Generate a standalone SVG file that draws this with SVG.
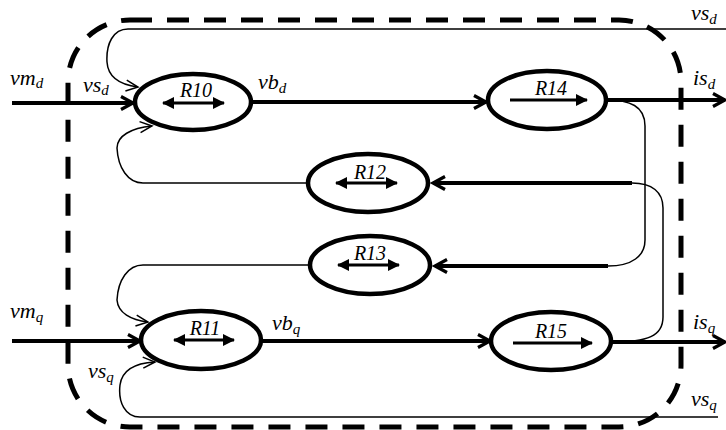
<svg xmlns="http://www.w3.org/2000/svg" width="726" height="430" viewBox="0 0 726 430">
<style>
.node{fill:#fff;stroke:#000;stroke-width:4.5}
.thick{fill:none;stroke:#000;stroke-width:3.8}
.thin{fill:none;stroke:#000;stroke-width:1.5}
.inner{fill:none;stroke:#000;stroke-width:3}
.border{fill:none;stroke:#000;stroke-width:5;stroke-dasharray:22 15}
text{font-family:'Liberation Serif','Times New Roman',Times,serif;font-style:italic;fill:#000}
.lbl{font-size:22px}
.rl{font-size:20px;text-anchor:middle}
.sub{font-size:15px}
</style>
<defs>
<marker id="chev" markerUnits="userSpaceOnUse" markerWidth="18" markerHeight="18" refX="14" refY="8" orient="auto" viewBox="0 0 18 16">
<path d="M2,1.5 L14,8 L2,14.5" fill="none" stroke="#000" stroke-width="3.2"/>
</marker>
<marker id="chevThin" markerUnits="userSpaceOnUse" markerWidth="16" markerHeight="16" refX="13" refY="8" orient="auto" viewBox="0 0 16 16">
<path d="M1,2.5 L13,8 L1,13.5" fill="none" stroke="#000" stroke-width="1.5"/>
</marker>
<marker id="tri" markerUnits="userSpaceOnUse" markerWidth="14" markerHeight="14" refX="11" refY="6" orient="auto-start-reverse" viewBox="0 0 14 12">
<path d="M0,0 L12,6 L0,12 Z" fill="#000"/>
</marker>
</defs>

<g id="connectors">
<path class="thick" d="M12,103 H133" marker-end="url(#chev)"/>
<path class="thick" d="M253,102 H486" marker-end="url(#chev)"/>
<path class="thick" d="M606,100 H725" marker-end="url(#chev)"/>
<path class="thick" d="M12,341 H140" marker-end="url(#chev)"/>
<path class="thick" d="M262,341 H490" marker-end="url(#chev)"/>
<path class="thick" d="M611,342 H725" marker-end="url(#chev)"/>
<path class="thin" d="M726,29 H128 C113,29 106,44 107,62 C108,78 122,85 138,87" marker-end="url(#chevThin)"/>
<path class="thin" d="M718,417 H140 C125,417 118,402 120,385 C122,370 136,363 155,362" marker-end="url(#chevThin)"/>
<path class="thin" d="M308,183 H143 C128,183 118,168 117,148 C117,136 131,128 152,126" marker-end="url(#chevThin)"/>
<path class="thin" d="M310,265 H143 C128,265 118,280 117,300 C118,313 131,320 148,322" marker-end="url(#chevThin)"/>
<path class="thin" d="M606,100 C630,100 645,106 645,126 V240 C645,256 632,266 608,266"/>
<path class="thick" d="M608,266 H435" marker-end="url(#chev)"/>
<path class="thin" d="M611,342 C648,342 663,336 663,317 V208 C663,192 652,183 632,183"/>
<path class="thick" d="M632,183 H433" marker-end="url(#chev)"/>
</g>

<rect class="border" x="68" y="20" width="613" height="407" rx="62" ry="62"/>

<g id="R10">
<ellipse class="node" cx="193" cy="102" rx="58" ry="28"/>
<path class="inner" d="M163,103 H224" marker-start="url(#tri)" marker-end="url(#tri)"/>
<text class="rl" x="196" y="97">R10</text>
</g>
<g id="R14">
<ellipse class="node" cx="547" cy="100" rx="59" ry="29"/>
<path class="inner" d="M510,100 H587" marker-end="url(#tri)"/>
<text class="rl" x="551" y="95">R14</text>
</g>
<g id="R12">
<ellipse class="node" cx="368" cy="183" rx="60" ry="29"/>
<path class="inner" d="M336,183 H397" marker-start="url(#tri)" marker-end="url(#tri)"/>
<text class="rl" x="370" y="179">R12</text>
</g>
<g id="R13">
<ellipse class="node" cx="370" cy="265" rx="60" ry="29"/>
<path class="inner" d="M338,265 H399" marker-start="url(#tri)" marker-end="url(#tri)"/>
<text class="rl" x="370" y="260">R13</text>
</g>
<g id="R11">
<ellipse class="node" cx="201" cy="340" rx="60" ry="29"/>
<path class="inner" d="M174,340 H234" marker-start="url(#tri)" marker-end="url(#tri)"/>
<text class="rl" x="205" y="335">R11</text>
</g>
<g id="R15">
<ellipse class="node" cx="551" cy="341" rx="60" ry="29"/>
<path class="inner" d="M513,343 H592" marker-end="url(#tri)"/>
<text class="rl" x="551" y="338">R15</text>
</g>

<g id="labels">
<text class="lbl" x="10" y="85">vm<tspan class="sub" dy="3">d</tspan></text>
<text class="lbl" x="83" y="92">vs<tspan class="sub" dy="3">d</tspan></text>
<text class="lbl" x="258" y="89">vb<tspan class="sub" dy="4">d</tspan></text>
<text class="lbl" x="691" y="20">vs<tspan class="sub" dy="4">d</tspan></text>
<text class="lbl" x="693" y="85">is<tspan class="sub" dy="4">d</tspan></text>
<text class="lbl" x="10" y="318">vm<tspan class="sub" dy="4">q</tspan></text>
<text class="lbl" x="88" y="378">vs<tspan class="sub" dy="4">q</tspan></text>
<text class="lbl" x="272" y="330">vb<tspan class="sub" dy="4">q</tspan></text>
<text class="lbl" x="693" y="329">is<tspan class="sub" dy="4">q</tspan></text>
<text class="lbl" x="691" y="406">vs<tspan class="sub" dy="4">q</tspan></text>
</g>
</svg>
